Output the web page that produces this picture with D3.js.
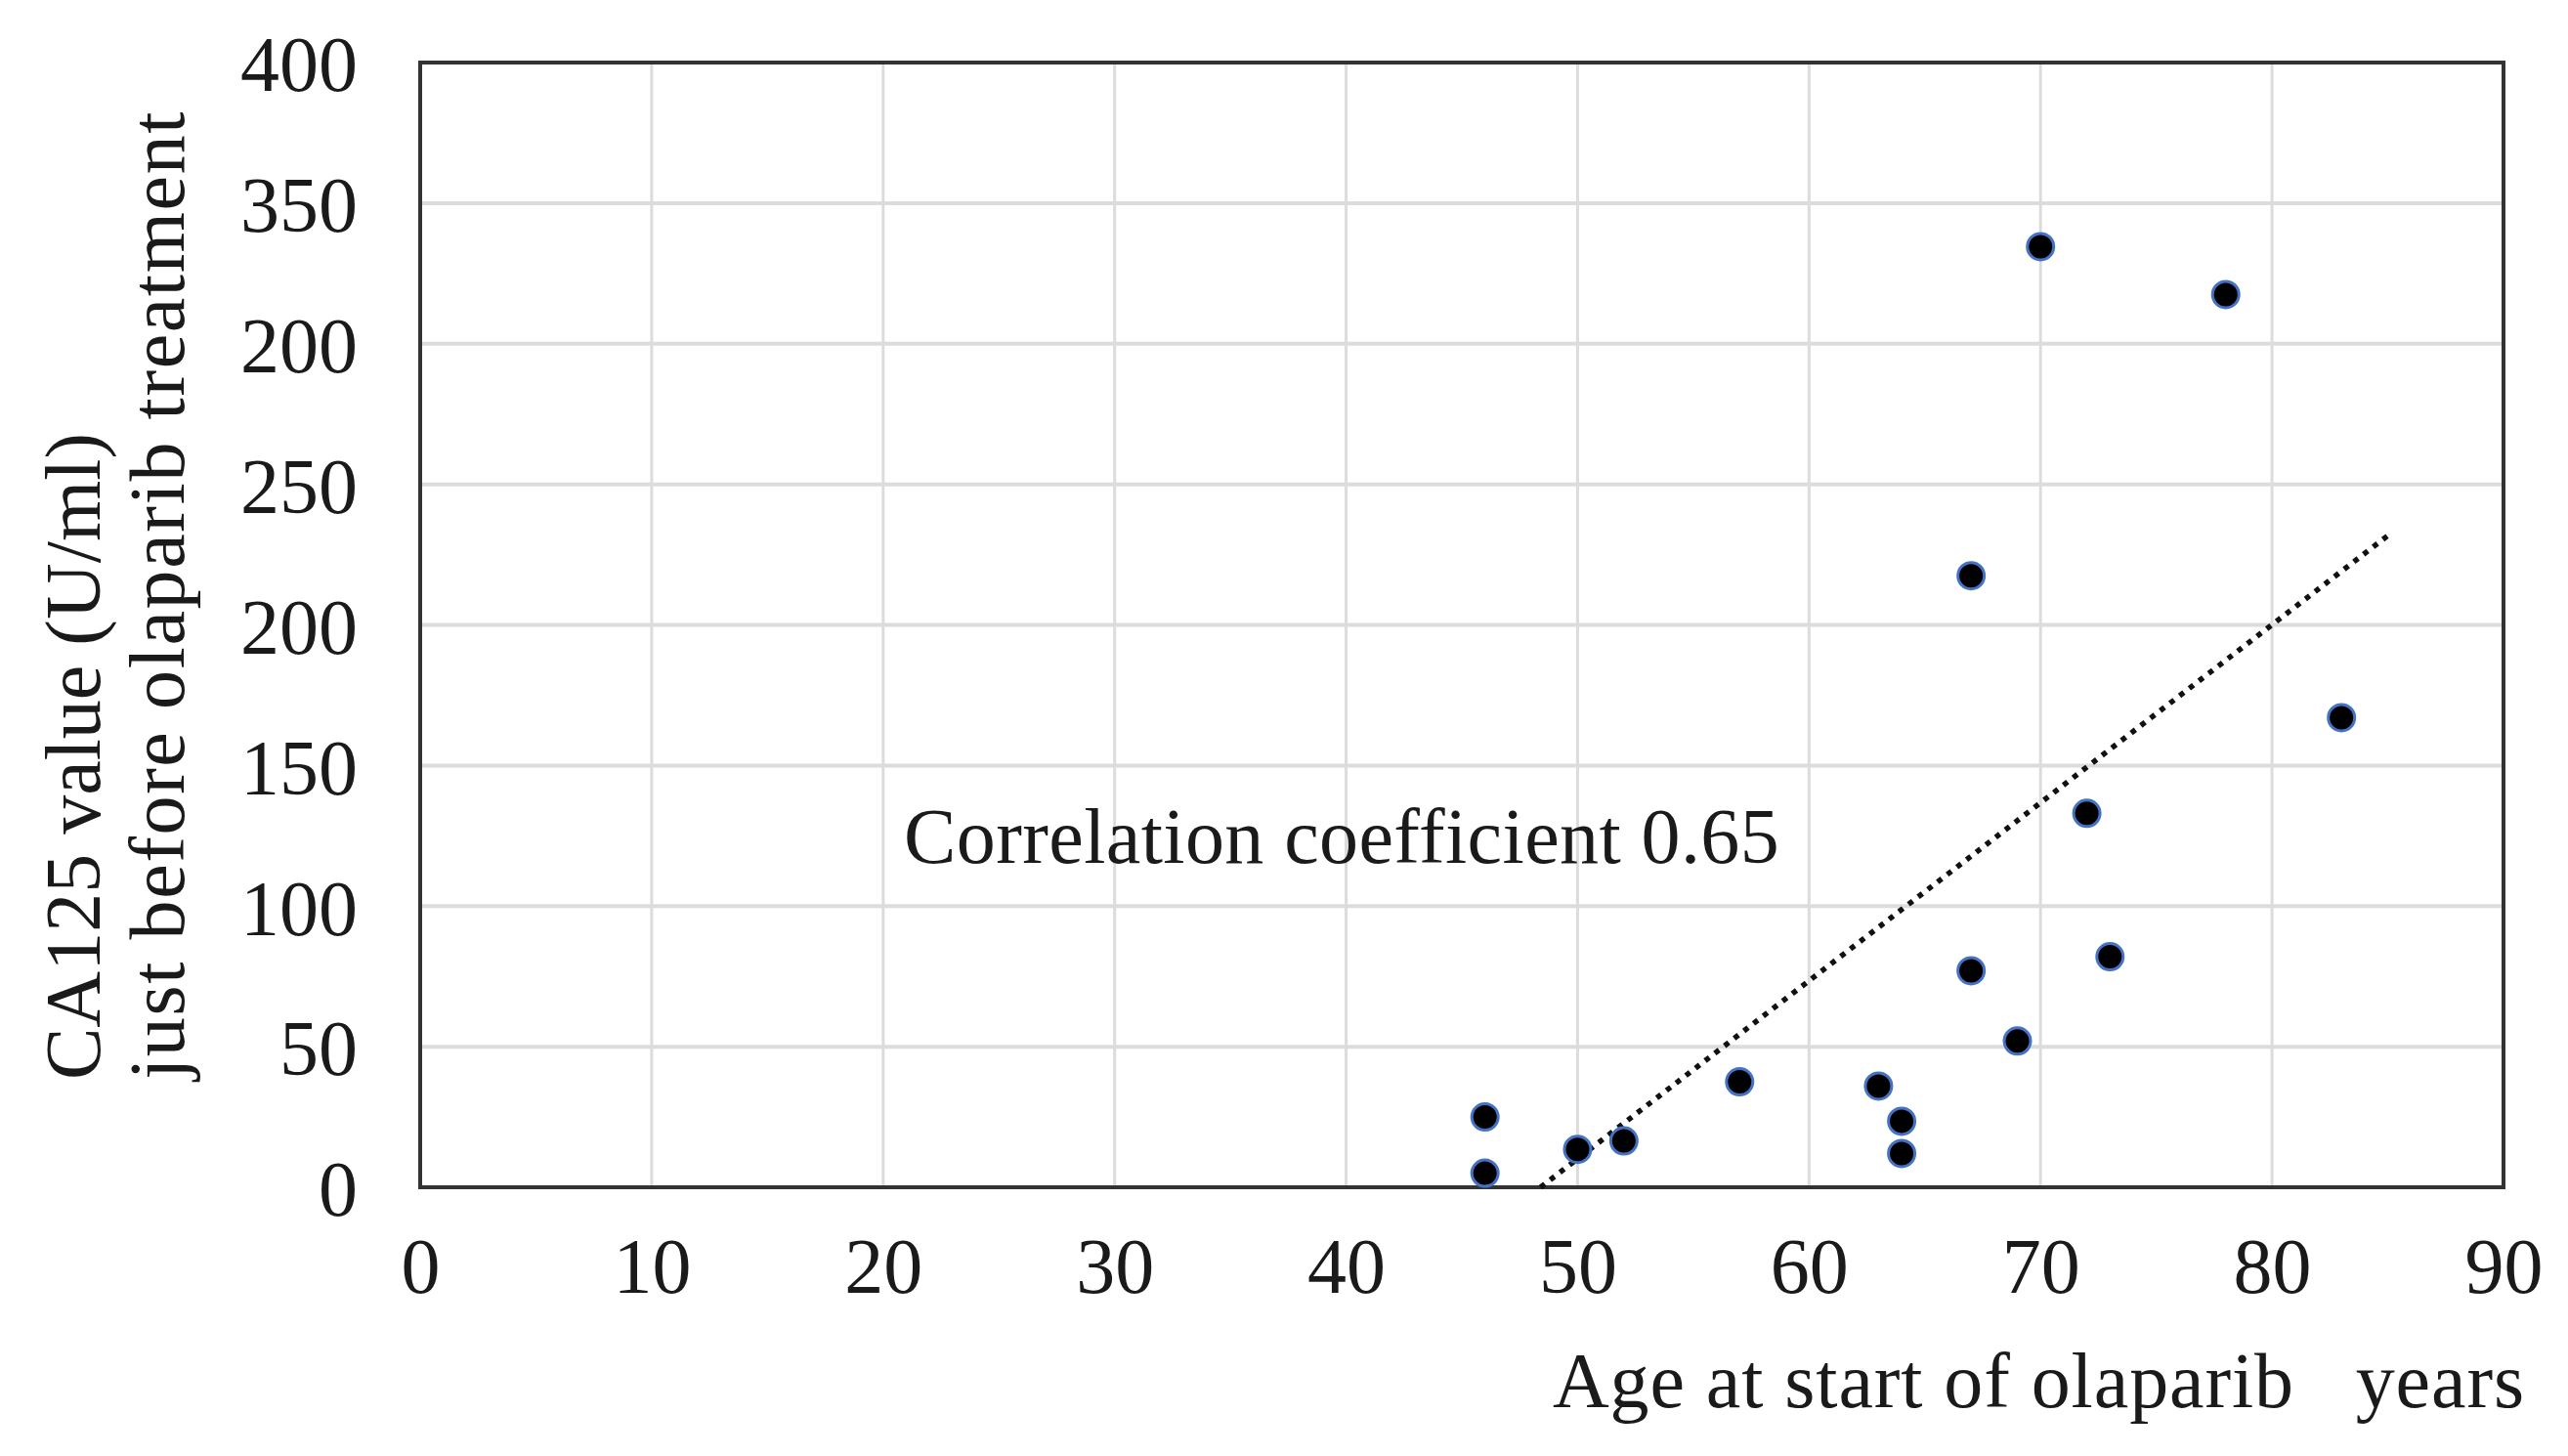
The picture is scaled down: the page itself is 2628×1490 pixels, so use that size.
<!DOCTYPE html>
<html>
<head>
<meta charset="utf-8">
<script src="https://cdn.jsdelivr.net/npm/d3@7"></script>
<style>
  body { margin: 0; background: #fff; }
  svg { display: block; }
  text { font-family: "Liberation Serif", "Times New Roman", serif; fill: #1a1a1a; }
</style>
</head>
<body>
<svg width="2628" height="1490"></svg>
<script>
var svg = d3.select("svg");

// data
var ages = [46, 46, 50, 52, 57, 63, 64, 64, 67, 69, 67, 70, 72, 73, 78, 83];
var ca125 = [25, 5, 13.5, 16.5, 37.5, 36, 23.5, 12, 77, 52, 217.5, 334.5, 133, 82, 317.5, 167];

// dotted trend line end points
var trendX = [48.4, 85.2];
var trendY = [0, 233];

// axis ticks (the figure really prints "200" twice)
var xTicks = [0, 10, 20, 30, 40, 50, 60, 70, 80, 90];
var yTicks = [0, 50, 100, 150, 200, 250, 300, 350, 400];
var yTickLabels = ["0", "50", "100", "150", "200", "250", "200", "350", "400"];

// set the dimensions and margins of the graph
var margin = {top: 64, right: 66, bottom: 275, left: 430},
    width = +svg.attr("width") - margin.left - margin.right,
    height = +svg.attr("height") - margin.top - margin.bottom;

var g = svg.append("g")
    .attr("transform", "translate(" + margin.left + "," + margin.top + ")");

var x = d3.scaleLinear().domain([0, 90]).range([0, width]);
var y = d3.scaleLinear().domain([0, 400]).range([height, 0]);

// grid
g.append("g")
    .selectAll("line.vgrid")
    .data(xTicks)
    .enter()
    .append("line")
    .attr("x1", function(d) { return x(d); })
    .attr("x2", function(d) { return x(d); })
    .attr("y1", 0)
    .attr("y2", height)
    .attr("stroke", "#dcdcdc")
    .attr("stroke-width", 3);

g.append("g")
    .selectAll("line.hgrid")
    .data(yTicks)
    .enter()
    .append("line")
    .attr("x1", 0)
    .attr("x2", width)
    .attr("y1", function(d) { return y(d); })
    .attr("y2", function(d) { return y(d); })
    .attr("stroke", "#dcdcdc")
    .attr("stroke-width", 4);

// frame
g.append("rect")
    .attr("x", 0)
    .attr("y", 0)
    .attr("width", width)
    .attr("height", height)
    .attr("fill", "none")
    .attr("stroke", "#333")
    .attr("stroke-width", 4);

// Add the X Axis
var xAxis = g.append("g")
    .attr("transform", "translate(0," + height + ")")
    .call(d3.axisBottom(x).tickValues(xTicks).tickSize(0).tickPadding(51));

// Add the Y Axis
var yAxis = g.append("g")
    .call(d3.axisLeft(y).tickValues(yTicks).tickSize(0).tickPadding(64)
      .tickFormat(function(d, i) { return yTickLabels[i]; }));

[xAxis, yAxis].forEach(function(a) {
  a.select(".domain").remove();
  a.selectAll("text")
    .style("font-family", "'Liberation Serif', serif")
    .style("font-size", "80px")
    .attr("fill", "#1a1a1a");
});
yAxis.selectAll("text").attr("dy", "0.36em");

// trend line
var line = d3.line()
    .x(function(d) { return x(d[0]); })
    .y(function(d) { return y(d[1]); });

g.append("path")
    .datum(d3.zip(trendX, trendY))
    .attr("d", line)
    .attr("fill", "none")
    .attr("stroke", "#111")
    .attr("stroke-width", 5.5)
    .attr("stroke-dasharray", "5.5 7");

// points
g.selectAll(".circles")
    .data(d3.zip(ages, ca125))
    .enter()
    .append("circle")
    .attr("class", "circles")
    .attr("cx", function(d) { return x(d[0]); })
    .attr("cy", function(d) { return y(d[1]); })
    .attr("r", 13.5)
    .attr("fill", "#000")
    .attr("stroke", "#4472c4")
    .attr("stroke-width", 3);

// annotation
g.append("text")
    .attr("x", 495)
    .attr("y", 819)
    .style("font-size", "80px")
    .style("letter-spacing", "0.4px")
    .text("Correlation coefficient 0.65");

// axis titles
svg.append("text")
    .attr("x", 2584)
    .attr("y", 1440)
    .attr("text-anchor", "end")
    .style("font-size", "80px")
    .style("letter-spacing", "0.9px")
    .style("white-space", "pre")
    .text("Age at start of olaparib   years");

var yTitle = svg.append("text")
    .attr("transform", "translate(0,1105) rotate(-90)")
    .style("font-size", "80px");
yTitle.append("tspan").attr("x", 0).attr("y", 102).text("CA125 value (U/ml)");
yTitle.append("tspan").attr("x", 0).attr("y", 188)
    .style("letter-spacing", "1.6px")
    .text("just before olaparib treatment");
</script>
</body>
</html>
